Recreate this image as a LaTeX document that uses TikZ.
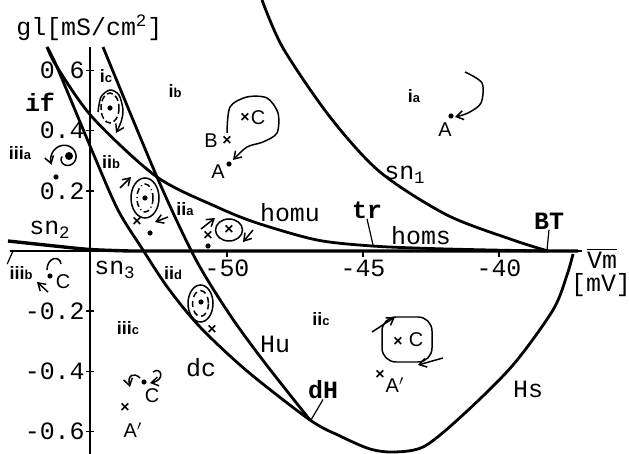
\documentclass[tikz,border=0pt]{standalone}
\usepackage{fontspec}
\setmainfont{Liberation Serif}
\setsansfont{Liberation Sans}
\setmonofont{Liberation Mono}
\usetikzlibrary{arrows.meta}

% region label: roman part + small index letter
\newcommand{\reg}[2]{#1{\fontsize{6.5}{6.5}\selectfont #2}}

\begin{document}
\begin{tikzpicture}[
    x=0.5bp, y=-0.5bp,
    >={Straight Barb[length=3.5bp,width=4.5bp]},
    % Styles
    curve/.style={line width=1.4pt, line join=round},
    axisline/.style={line width=0.8pt},
    snline/.style={line width=1.7pt},
    leader/.style={line width=0.6pt},
    flow/.style={line width=0.75pt},
    typelabel/.style={inner sep=0pt, font=\fontsize{12.5}{13}\selectfont\ttfamily},
    boldlabel/.style={inner sep=0pt, font=\fontsize{12.5}{13}\selectfont\ttfamily\bfseries},
    region/.style={inner sep=0pt, font=\fontsize{9}{9}\selectfont\sffamily\bfseries},
    hand/.style={inner sep=0pt, font=\fontsize{10}{10}\selectfont\sffamily},
    xmark/.style={inner sep=0pt, font=\fontsize{8}{8}\selectfont\sffamily\bfseries},
    dot/.style={circle, fill, inner sep=0pt, minimum size=2.6bp},
]
\useasboundingbox (0,0) rectangle (629,454);

%--- Axes ---%
% Vm: -55 mV at x=90, 27.2 px per mV ; gl: 0 at y=251, 301 px per mS/cm2
\draw[axisline] (10,251) -- (582,251);
\draw[axisline] (90,47) -- (90,454);

\foreach \y/\v/\n in {70.4/0.6/1, 130.6/0.4/2, 190.8/0.2/3, 311.2/-0.2/4, 371.4/-0.4/5, 431.6/-0.6/6}{
    \draw[axisline] (86,\y) -- (94,\y);
    \node[typelabel, anchor=east] (ytick\n) at (85,\y) {\v};
}
\foreach \x/\v/\n in {227/-50/1, 363/-45/2, 499/-40/3}{
    \draw[axisline] (\x,251) -- (\x,257);
    \node[typelabel] (xtick\n) at (\x,268) {\v};
}

\node[typelabel, anchor=west] (glunit) at (16,28) {gl[mS/cm\textsuperscript{2}]};
\node[typelabel] (vm) at (602,258) {$\overline{\hbox{\ttfamily Vm}}$};
\node[typelabel] (mv) at (601,285) {[mV]};

%--- Bifurcation curves ---%
% sn2 -> sn3 (along the Vm axis)
\draw[snline] plot[smooth] coordinates {(8,241) (50,245.5) (90,249.5) (130,251)} -- (578,251);

% dc, continued by Hs through dH
\draw[curve] plot[smooth] coordinates {
    (47,47) (57,67) (93,153) (118,210) (143,250) (168,288) (200,327)
    (247,371) (310,420) (340,436) (370,449) (395,452) (425,446)
    (465,413) (513,365) (553,310) (567,275) (573,254)};

% Hu
\draw[curve] plot[smooth] coordinates {
    (103,47) (157,177) (195,258) (230,315) (265,363) (310,420)};

% homu -> homs
\draw[curve] plot[smooth] coordinates {
    (47,47) (57,67) (93,118) (157,177) (217,207) (257,223) (317,240)
    (372,246) (430,248.5) (490,250) (548,251)};

% sn1
\draw[curve] plot[smooth] coordinates {
    (262,0) (283,48) (330,117) (380,172) (447,215) (513,240) (548,251)};

%--- Curve labels ---%
\node[typelabel] (sn1) at (405,175) {sn\textsubscript{1}};
\node[typelabel] (sn2) at (50,230) {sn\textsubscript{2}};
\node[typelabel] (sn3) at (115,270) {sn\textsubscript{3}};
\node[typelabel] (homu) at (290,213) {homu};
\node[typelabel] (homs) at (421,236) {homs};
\node[typelabel] (hu) at (275,344) {Hu};
\node[typelabel] (dc) at (201,368) {dc};
\node[typelabel] (hs) at (528,389) {Hs};

\node[boldlabel] (if) at (40,102) {if};
\node[boldlabel] (tr) at (367,210) {tr};
\node[boldlabel] (bt) at (549,221) {BT};
\node[boldlabel] (dh) at (323,390) {dH};

\coordinate (trpt) at (373,245);
\coordinate (btpt) at (547,250);
\coordinate (dhpt) at (311,420);
\draw[leader] (tr.south) -- (trpt);
\draw[leader] (bt.south) -- (btpt);
\draw[leader] (dh.south) -- (dhpt);

%--- Regions ---%
\node[region] (ia) at (414,96) {\reg{i}{a}};
\node[region] (ib) at (175,91) {\reg{i}{b}};
\node[region] (ic) at (106,76) {\reg{i}{c}};
\node[region] (iia) at (185,209) {\reg{ii}{a}};
\node[region] (iib) at (111,162) {\reg{ii}{b}};
\node[region] (iic) at (321,319) {\reg{ii}{c}};
\node[region] (iid) at (173,273) {\reg{ii}{d}};
\node[region] (iiia) at (20,153) {\reg{iii}{a}};
\node[region] (iiib) at (21,273) {\reg{iii}{b}};
\node[region] (iiic) at (128,328) {\reg{iii}{c}};

\coordinate (iiibpt) at (13,251);
\draw[leader] (iiib.north west) ++(-2,-2) -- (iiibpt);

%--- Phase portraits ---%
% ib: B, C, A
\node[hand] (pb) at (211,141) {B};
\node[xmark] (xb) at (227,141) {×};
\node[xmark] (xc) at (245,118) {×};
\node[hand] (pc) at (258,118) {C};
\node[hand] (pa) at (218,172) {A};
\node[dot] (da) at (229,164) {};
\draw[flow,->] plot[smooth] coordinates {(227,133) (230,107) (247,97) (267,98)
    (278,113) (277,133) (263,142) (247,147) (233,160)};

% ia: A
\node[hand] (pa2) at (445,130) {A};
\node[dot] (da2) at (451,116) {};
\draw[flow,->] plot[smooth] coordinates {(465,72) (482,83) (481,103) (468,113) (455,117)};

% ic
\draw[flow, dash pattern=on 3bp off 1.5bp] (110,108) ellipse [x radius=9, y radius=15];
\node[dot] (dic) at (110,108) {};
\draw[flow,->] plot[smooth] coordinates {(98,112) (101,97) (110,90) (119,95) (123,110) (121,122) (116,133)};

% iiia: spiral
\draw[flow,->] plot[domain=-200:205, samples=60, smooth]
    ({66+(4+12*(\x+200)/405)*cos(\x)}, {158-(4+12*(\x+200)/405)*sin(\x)});
\fill (69,156) circle [radius=4];
\node[dot] (diiia) at (56,177) {};

% iib
\draw[flow] (145,198) ellipse [x radius=14, y radius=20];
\draw[flow, dash pattern=on 3bp off 1.5bp on 0.5bp off 1.5bp] (145,198) ellipse [x radius=8, y radius=14];
\node[dot] (diib) at (145,198) {};
\draw[flow,->] (120,188) -- (131,177);
\draw[flow,->] (168,217) -- (155,222);
\node[xmark] (xiib) at (137,222) {×};
\node[dot] (diib2) at (150,233) {};

% iia
\draw[flow] (229,230) ellipse [x radius=13.5, y radius=11];
\node[xmark] (xiia) at (229,230) {×};
\draw[flow,->] (201,229) -- (215,218);
\draw[flow,->] (253,230) -- (243,242);
\node[xmark] (xiia2) at (208,236) {×};
\node[dot] (diia) at (208,246) {};

% iid
\draw[flow] (200.5,303.5) ellipse [x radius=12.5, y radius=18.5];
\draw[flow, densely dashed] (200.5,303.5) ellipse [x radius=8, y radius=13];
\node[dot] (diid) at (201,302) {};
\node[xmark] (xiid) at (212,330) {×};

% iic
\draw[flow, rounded corners=7bp] (382,317) rectangle (432,362);
\node[xmark] (xiic) at (398,342) {×};
\node[hand] (pc2) at (416,340) {C};
\draw[flow,->] (372,332) -- (395,317);
\draw[flow,->] (443,358) -- (418,365);
\node[xmark] (xiic2) at (380,375) {×};
\node[hand] (pa3) at (395,385) {A$'$};

% iiic
\node[dot] (diiic) at (144,382) {};
\draw[flow,->] (140,378) .. controls (134,372) and (127,375) .. (130,387);
\draw[flow,->] (153,372) .. controls (161,366) and (166,380) .. (150,383);
\node[hand] (pc3) at (152,396) {C};
\node[xmark] (xiiic) at (125,408) {×};
\node[hand] (pa4) at (133,430) {A$'$};

% iiib
\node[dot] (diiib) at (50,276) {};
\draw[flow] (47,270) .. controls (47,257) and (60,255) .. (61,264);
\draw[flow,->] (48,292) -- (37,282);
\node[hand] (pc4) at (63,282) {C};

\end{tikzpicture}
\end{document}
